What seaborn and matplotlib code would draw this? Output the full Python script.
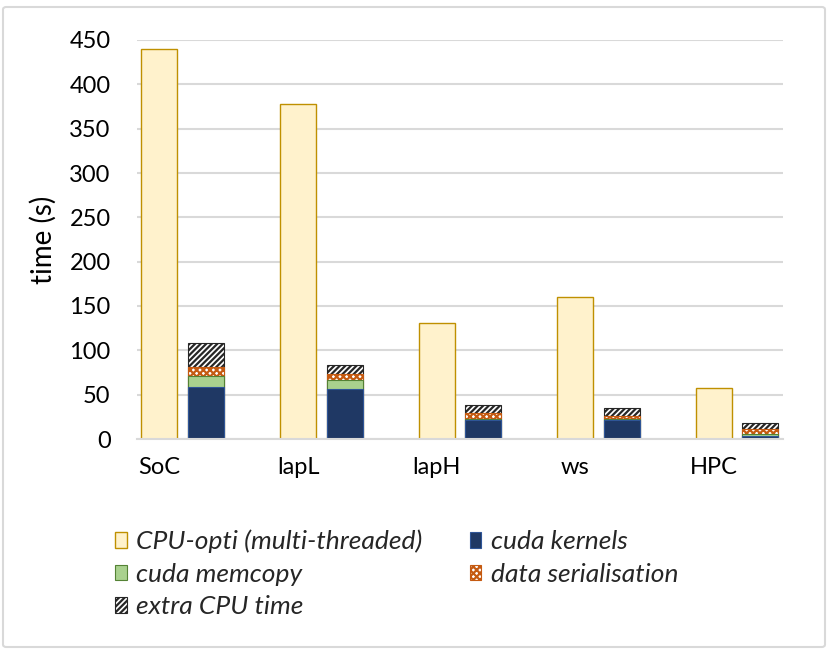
import numpy as np
import pandas as pd
import seaborn as sns
import matplotlib
matplotlib.use("Agg")
import matplotlib.pyplot as plt
import matplotlib.patches as mpatches

categories = ["SoC", "lapL", "lapH", "ws", "HPC"]
cpu_opti = [440, 378, 131, 160, 57]
cuda_kernels = [58.5, 56, 21, 21, 3.5]
cuda_memcopy = [12.5, 10.5, 2, 2, 2.5]
data_serialisation = [10.5, 6.5, 6.5, 3.5, 5]
extra_cpu = [26.5, 11, 8.5, 8.5, 7]
yticks = [0, 50, 100, 150, 200, 250, 300, 350, 400, 450]

sns.set_theme(style="white")
plt.rcParams["font.family"] = ["Lato", "DejaVu Sans"]
plt.rcParams["hatch.linewidth"] = 1.6

W, H = 830, 652
fig = plt.figure(figsize=(W / 100, H / 100), dpi=100)
ax = fig.add_axes([137 / W, 1 - 439 / H, (783 - 137) / W, (439 - 40) / H])

pos = np.arange(len(categories))
gpu_off = 0.335
bw = 0.26

cpu_df = pd.DataFrame({"x": pos.astype(float), "y": cpu_opti})
sns.barplot(data=cpu_df, x="x", y="y", native_scale=True, width=bw, errorbar=None,
            color="#FFF2CC", saturation=1, edgecolor="#BF9000", linewidth=1.0, ax=ax)

layers = [
    ("cuda kernels", cuda_kernels, dict(color="#1F3864", edgecolor="#2F5597", linewidth=0.8)),
    ("cuda memcopy", cuda_memcopy, dict(color="#A9D18E", edgecolor="#548235", linewidth=0.8)),
    ("data serialisation", data_serialisation, dict(color="white", edgecolor="#C55A11", linewidth=0.8, hatch="xxxxx")),
    ("extra CPU time", extra_cpu, dict(color="white", edgecolor="#262626", linewidth=0.8, hatch="//////")),
]
cum = np.cumsum(np.array([l[1] for l in layers]), axis=0)
# draw from top of stack down so lower segments overlay
for i in range(len(layers) - 1, -1, -1):
    name, vals, style = layers[i]
    df = pd.DataFrame({"x": pos + gpu_off, "y": cum[i]})
    sns.barplot(data=df, x="x", y="y", native_scale=True, width=bw, errorbar=None,
                saturation=1, ax=ax, **style)

ax.set_xlim(-0.162, 4.498)
ax.set_ylim(0, 450)
ax.set_yticks(yticks)
ax.set_yticklabels([str(t) for t in yticks], fontsize=17, color="#000000")
ax.set_xticks(pos)
ax.set_xticklabels(categories, fontsize=17, color="#000000")
ax.tick_params(axis="y", length=0, pad=19)
ax.tick_params(axis="x", length=0, pad=13)
ax.set_xlabel("")
ax.set_ylabel("time (s)", fontsize=20, color="#000000")
ax.yaxis.set_label_coords(-0.124, 0.5)
ax.grid(axis="y", color="#D9D9D9", linewidth=1.5)
ax.set_axisbelow(True)
for s in ["top", "right", "left"]:
    ax.spines[s].set_visible(False)
ax.spines["bottom"].set_color("#D9D9D9")
ax.spines["bottom"].set_linewidth(1.5)

h_cpu = mpatches.Patch(facecolor="#FFF2CC", edgecolor="#BF9000", linewidth=1.0, label="CPU-opti (multi-threaded)")
h_ker = mpatches.Patch(facecolor="#1F3864", edgecolor="#2F5597", linewidth=0.8, label="cuda kernels")
h_mem = mpatches.Patch(facecolor="#A9D18E", edgecolor="#548235", linewidth=0.8, label="cuda memcopy")
h_ser = mpatches.Patch(facecolor="white", edgecolor="#C55A11", linewidth=0.8, hatch="xxxxx", label="data serialisation")
h_ext = mpatches.Patch(facecolor="white", edgecolor="#262626", linewidth=0.8, hatch="//////", label="extra CPU time")
handles = [h_cpu, h_mem, h_ext, h_ker, h_ser]
leg = fig.legend(handles=handles, loc="upper left", bbox_to_anchor=(91 / W, 1 - 506 / H),
                 ncol=2, frameon=False, handlelength=0.45, handleheight=0.55,
                 handletextpad=0.35, columnspacing=1.8, labelspacing=0.36,
                 prop={"style": "italic", "size": 19})

border = mpatches.FancyBboxPatch((3 / W, 5 / H), (825 - 3) / W, (645 - 5) / H,
                                 boxstyle="round,pad=0,rounding_size=0.004",
                                 transform=fig.transFigure, fill=False,
                                 edgecolor="#D9D9D9", linewidth=1.5)
fig.patches.append(border)

fig.savefig("out.png", dpi=100)
